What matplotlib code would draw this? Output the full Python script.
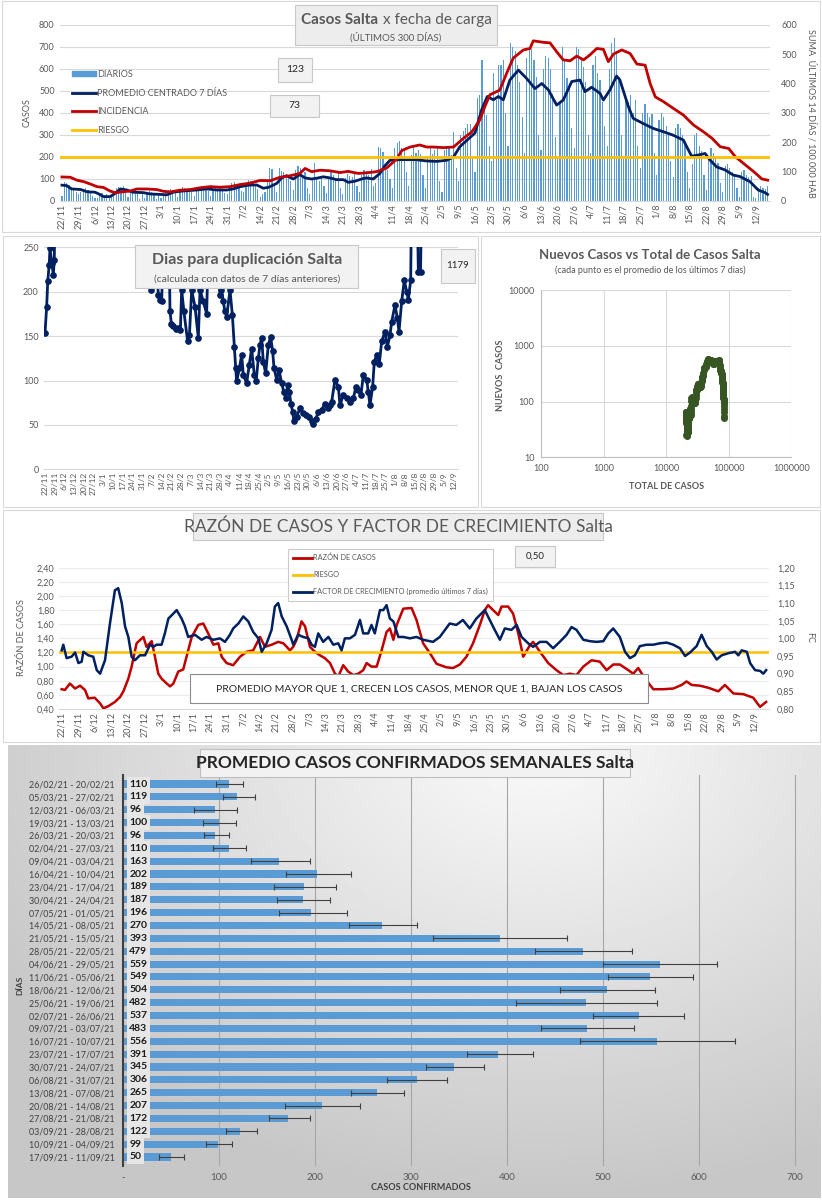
import numpy as np
import pandas as pd
import matplotlib
matplotlib.use("Agg")
import matplotlib.pyplot as plt
from matplotlib.patches import Rectangle
from matplotlib.lines import Line2D

plt.rcParams['font.family'] = ['Lato', 'DejaVu Sans']

# ---------------- datos ----------------
fechas_ticks = ["22/11", "29/11", "6/12", "13/12", "20/12", "27/12", "3/1", "10/1", "17/1", "24/1",
                "31/1", "7/2", "14/2", "21/2", "28/2", "7/3", "14/3", "21/3", "28/3", "4/4", "11/4",
                "18/4", "25/4", "2/5", "9/5", "16/5", "23/5", "30/5", "6/6", "13/6", "20/6", "27/6",
                "4/7", "11/7", "18/7", "25/7", "1/8", "8/8", "15/8", "22/8", "29/8", "5/9", "12/9"]

# casos diarios, 22/11/2020 a 17/09/2021
diarios = [
    25, 85, 80, 75, 65, 60, 40,
    30, 40, 55, 60, 50, 45, 25,
    12, 15, 30, 35, 28, 30, 20,
    25, 45, 60, 65, 55, 70, 35,
    20, 40, 55, 50, 45, 10, 35,
    15, 35, 45, 40, 35, 10, 30,
    12, 30, 40, 50, 55, 45, 35,
    20, 50, 65, 60, 55, 55, 40,
    25, 55, 65, 60, 60, 65, 45,
    25, 50, 60, 70, 60, 50, 35,
    30, 60, 80, 85, 70, 60, 45,
    40, 80, 95, 90, 90, 75, 55,
    20, 30, 40, 100, 150, 145,
    80, 40, 150, 135, 130, 115, 120,
    90, 50, 140, 160, 150, 110, 133,
    60, 30, 100, 175, 110, 90, 107,
    70, 35, 110, 130, 120, 100, 135,
    60, 30, 105, 125, 115, 110, 127,
    70, 40, 120, 140, 135, 120, 145,
    70, 80, 245, 240, 225, 140, 141,
    100, 60, 240, 265, 275, 240, 234,
    130, 70, 210, 250, 220, 230, 213,
    120, 60, 200, 240, 215, 230, 244,
    90, 40, 230, 250, 240, 210, 312,
    150, 90, 300, 320, 330, 350, 350,
    200, 130, 470, 480, 640, 440, 391,
    250, 180, 580, 460, 620, 620, 643,
    400, 250, 720, 700, 680, 620, 543,
    380, 220, 650, 700, 690, 640, 563,
    300, 230, 600, 660, 650, 600, 488,
    290, 200, 450, 700, 640, 560, 534,
    330, 240, 700, 690, 650, 610, 539,
    300, 220, 620, 660, 580, 550, 451,
    340, 250, 600, 720, 740, 680, 562,
    300, 190, 460, 450, 480, 400, 457,
    250, 150, 400, 440, 400, 380, 395,
    220, 120, 370, 400, 380, 340, 312,
    180, 110, 330, 350, 330, 300, 255,
    130, 60, 170, 300, 310, 250, 229,
    120, 50, 200, 240, 220, 200, 174,
    80, 40, 160, 170, 150, 130, 124,
    60, 20, 130, 140, 120, 110, 113,
    20, 15, 60, 70, 60, 55, 70,
]

dias_prom = [0, 2, 4, 8, 10.6, 14, 16, 17.6, 20.4, 22.6, 24.7, 27.5, 30, 34.5, 37.4, 41.6, 44.4, 47.2,
             50.8, 57.1, 61.4, 65.6, 69.9, 72.6, 75.5, 79, 82.5, 85.3, 87.5, 91, 93.1, 95.2, 98,
             100.8, 103, 105.8, 108.6, 110.7, 113.5, 116.4, 119.2, 121.3, 124.1, 127, 129, 131.9,
             134.7, 136.8, 139, 143.2, 150, 154.5, 158.7, 163, 165.9, 168.6, 171.5, 175, 177.8,
             180.2, 182.8, 184.9, 187, 189.8, 193.4, 196.9, 200.4, 203.3, 206.1, 209.6, 212.4, 216,
             219.5, 221.6, 224.4, 228, 229.4, 232.2, 235, 236.4, 240, 242, 246.3, 250.5, 254.8, 259,
             263.3, 264.7, 266.8, 269.6, 272.5, 274.6, 277.4, 281, 284.4, 287.3, 291.5, 295, 297.9, 299]
promedio7 = [72, 70, 55, 52, 42, 40, 30, 20, 20, 35, 55, 50, 40, 38, 32, 30, 28, 40,
             45, 50, 55, 50, 50, 55, 65, 72, 73, 58, 62, 80, 105, 115, 100,
             120, 105, 100, 105, 110, 105, 97, 97, 85, 90, 100, 105, 100,
             125, 160, 185, 188, 188, 182, 180, 185, 200, 247, 275, 309, 414,
             475, 460, 475, 460, 550, 595, 557, 511, 534, 505, 436, 459, 543,
             550, 497, 517, 489, 459, 505, 568, 550, 429, 376, 352, 330, 315, 299,
             277, 247, 204, 209, 216, 186, 155, 141, 118, 111, 88, 50, 38, 30]

dias_inc = [0, 3.5, 6.3, 9.2, 12, 14.8, 17.6, 20.4, 22.6, 25.4, 28.9, 31.7, 36, 40.2, 43, 45.8, 50.1,
            54.3, 58.5, 62.8, 67, 71.2, 75.5, 79.7, 83.9, 88.2, 92.4, 96.6, 100.8, 103, 105.8, 109.3,
            113.5, 117.8, 121.3, 125.5, 129, 133.3, 137.5, 141.7, 144, 147.5, 151.6, 154.5, 157.3,
            161.6, 165.9, 170, 173.6, 177, 179.2, 181.3, 185.5, 188.4, 191.2, 195.5, 198.3, 199.7,
            204, 206.8, 209.6, 212.4, 215.3, 218.1, 221, 223.7, 226.6, 229.4, 231.5, 233.7, 237.2,
            240.7, 243.6, 247.1, 249.2, 251.4, 254.8, 259, 263.3, 267.6, 271.8, 275.4, 278.9, 282.5,
            285.3, 288.8, 293.1, 296.6, 299]
incidencia = [82, 81, 71, 66, 58, 49, 46, 34, 28, 31, 34, 41, 41, 39, 33, 31, 37,
              39, 45, 49, 47, 49, 56, 61, 70, 69, 81, 86, 94, 111, 100, 105,
              103, 97, 101, 94, 96, 100, 112, 142, 172, 184, 191, 184, 184,
              182, 184, 213, 235, 276, 322, 362, 378, 435, 487, 515, 520, 546,
              541, 539, 509, 481, 478, 494, 481, 498, 520, 517, 475, 501, 515,
              503, 467, 463, 401, 355, 339, 316, 293, 259, 236, 214, 185, 179,
              151, 128, 100, 75, 71]

dias_dup = [0, 1.2, 2, 3, 3.6, 5, 6, 6.7, 8, 20, 40, 60, 74, 76, 78, 81.6, 82.8, 84, 86, 89, 90, 91,
            92.4, 94, 96, 97.5, 98.4, 100, 102.7, 104, 105.6, 108, 110.4, 111.6, 114, 116.4, 118.3,
            122, 125, 126, 127, 128.4, 129.5, 130.8, 133.2, 134.9, 136.3, 137.3, 138, 140, 141.6,
            142.8, 145.2, 147, 148.8, 150.7, 152, 153.6, 154.8, 156, 157.2, 158.9, 160.8, 162.5,
            163.9, 164.9, 166.8, 168.5, 170.4, 172, 173.3, 174.7, 175.9, 177.1, 178.3, 179.3, 181.2,
            183.6, 185.5, 187.9, 190.3, 192, 193.2, 195.1, 196.8, 199.2, 201.6, 203.5, 205.2, 206.4,
            208.8, 211.2, 212.4, 214.8, 217.2, 219.6, 222, 223.9, 225.6, 227.5, 229.2, 231.6, 232.8,
            234, 235.9, 237.1, 238.8, 240.7, 242.4, 244.8, 246.5, 248.4, 249.6, 252, 253.7, 254.9,
            256.8, 258.7, 260.4, 261.6, 263.3, 264.5, 267, 268.8, 270.4, 272, 285, 299]
duplicacion = [153, 183, 212, 230, 249, 232, 219, 236, 400, 500, 500, 500, 400, 202, 300, 196, 191, 189, 300, 300, 178, 164,
               161, 158, 159, 157, 202, 178, 144, 151, 202, 183, 148, 202, 189, 175, 300,
               300, 300, 196, 202, 189, 178, 172, 202, 174, 138, 114, 99, 114, 129,
               106, 97, 117, 136, 106, 99, 125, 140, 148, 121, 108, 140, 149,
               133, 114, 101, 112, 97, 87, 80, 95, 87, 74, 65, 54, 59,
               69, 63, 61, 59, 54, 51, 57, 65, 67, 74, 69, 72, 76,
               101, 93, 72, 84, 80, 76, 80, 93, 89, 84, 106, 101, 87,
               72, 93, 121, 129, 119, 144, 155, 138, 151, 166, 185, 170, 155,
               189, 213, 200, 191, 213, 400, 400, 222, 222, 400, 800, 1179]

dias_razon = [0, 1.4, 3.5, 5.7, 7.8, 9.9, 11.3, 14, 16.3, 17.7, 19.8, 22.6, 24.8, 26.2, 28.3, 29.7, 31.8,
              34.7, 36, 38.2, 39.6, 41, 42.4, 44.6, 46, 47.4, 49.5, 51.6, 53, 55.2, 58, 60.1, 62.2,
              64.4, 66.5, 67.9, 70, 72.8, 75.7, 78.5, 81.3, 84.2, 86.3, 89.1, 91.9, 94.1, 96.9, 98.3,
              99.7, 101.8, 103.3, 105.4, 107.5, 109.6, 111.7, 113.9, 116, 117.4, 119.5, 121.6, 123.8,
              125.9, 128, 129.4, 131.5, 133.7, 135.8, 137.9, 139.3, 140.8, 142.2, 145, 148.5, 150.6,
              153.4, 156.3, 159.1, 163.3, 166.1, 169, 171.8, 174.6, 177.5, 179.6, 181, 183.1, 185.3,
              186.7, 189.5, 191.6, 193.8, 195.9, 198.7, 200.1, 203, 206.5, 210, 212.9, 215.7, 218.5,
              221.4, 224.9, 228.4, 231.3, 234.1, 236.9, 240.5, 242.6, 244.7, 247.6, 251.1, 255.4,
              259.6, 263.1, 265.2, 267.4, 270.9, 274.5, 278.7, 281.5, 285.1, 289.3, 293.5, 296.4, 299]
razon = [0.68, 0.67, 0.76, 0.69, 0.73, 0.67, 0.55, 0.56, 0.48, 0.41, 0.44, 0.50, 0.57, 0.65, 0.83, 1.00, 1.33,
         1.42, 1.28, 1.36, 1.14, 0.90, 0.83, 0.76, 0.72, 0.76, 0.93, 0.96, 1.14, 1.42, 1.59, 1.61, 1.47,
         1.31, 1.33, 1.14, 1.05, 1.02, 1.14, 1.21, 1.23, 1.42, 1.28, 1.31, 1.35, 1.33, 1.23, 1.28,
         1.38, 1.64, 1.57, 1.28, 1.21, 1.16, 1.12, 1.05, 0.90, 0.86, 1.02, 0.93, 0.88,
         0.90, 0.95, 1.05, 1.00, 1.00, 1.23, 1.49, 1.54, 1.38, 1.59, 1.82, 1.83, 1.66,
         1.33, 1.19, 1.04, 0.99, 0.98, 1.03, 1.14, 1.33, 1.59, 1.80, 1.87, 1.80, 1.73,
         1.85, 1.85, 1.75, 1.47, 1.14, 1.30, 1.35, 1.21, 1.05, 0.95, 0.88, 0.90, 0.88,
         1.00, 1.09, 1.07, 0.95, 1.03, 1.03, 0.95, 0.90, 0.98, 0.83, 0.68, 0.68,
         0.69, 0.74, 0.79, 0.74, 0.73, 0.70, 0.65, 0.74, 0.62, 0.61, 0.56, 0.43, 0.50]

dias_fc = [0, 0.7, 2.1, 4.2, 5.7, 7.1, 8.5, 9.2, 11.3, 13.4, 14.9, 16.3, 18.4, 20.5, 22.6, 24, 25.5, 26.9,
           28.3, 29.7, 31.1, 33.2, 35.4, 37.5, 38.9, 40.3, 42.4, 43.8, 45.3, 47.4, 48.8, 50.9, 52.3,
           53.7, 56.6, 59.4, 61.5, 64.4, 67.2, 69.3, 71.4, 72.8, 75, 77.1, 79.2, 81.3, 83.5, 84.9, 87,
           89.1, 90.5, 91.9, 93.4, 95.5, 97.6, 98.3, 100.4, 102.5, 104.7, 106.1, 107.5, 108.9, 111,
           113.2, 115.3, 117.4, 118.8, 120.2, 122.3, 124.5, 126.6, 128, 130.1, 131.5, 132.9, 135.1,
           136.5, 137.9, 139.3, 140.8, 142.9, 145, 147.8, 150.6, 153.4, 157.6, 160.5, 164.7, 167.5,
           170.3, 173.2, 176, 179.6, 181.7, 183.8, 186, 188.1, 190.9, 193.1, 195.2, 198, 200.1, 203,
           205.8, 208.6, 211.4, 214.3, 216.4, 218.5, 221.4, 224.2, 227, 229.9, 232, 234.1, 236.9,
           239.1, 241.2, 243.3, 245.4, 248.3, 251.1, 253.9, 256.8, 259.6, 262.4, 264.6, 266.7,
           269.5, 271.6, 273.8, 275.9, 278, 280.1, 283, 285.8, 287.2, 288.6, 290.8, 292.2, 294.3,
           296.4, 297.8, 299]
factor_crec = [0.966, 0.982, 0.944, 0.948, 0.96, 0.93, 0.934, 0.962, 0.952, 0.948, 0.91, 0.90, 0.938, 1.042, 1.136, 1.142, 1.10, 1.034,
               1.004, 0.948, 0.938, 0.952, 0.952, 0.982, 0.976, 0.982, 0.982, 1.014, 1.056, 1.07, 1.08, 1.056, 1.034,
               1.004, 1.01, 0.996, 1.004, 0.996, 1.00, 0.99, 1.01, 1.028, 1.042, 1.062, 1.048, 1.018, 1.00, 0.962, 0.986,
               1.024, 1.09, 1.10, 1.062, 1.034, 0.996, 0.982, 1.01, 1.004, 1.00, 0.982, 0.976, 1.014, 0.99,
               1.004, 0.982, 0.986, 0.966, 1.00, 1.00, 1.01, 1.052, 1.014, 1.014, 1.038, 1.014, 1.08,
               1.08, 1.094, 1.056, 1.048, 1.004, 1.004, 1.00, 1.004, 0.996, 0.99, 1.004, 1.042, 1.038,
               1.052, 1.028, 1.056, 1.08, 1.052, 1.024, 0.996, 1.028, 1.024, 1.038, 1.004, 0.986, 0.976, 0.99,
               0.99, 0.972, 0.99, 1.01, 1.032, 1.024, 0.996, 0.992, 0.99, 0.992, 1.014, 1.028, 1.004,
               0.962, 0.944, 0.952, 0.978, 0.982, 0.982, 0.986, 0.988, 0.982, 0.972, 0.95, 0.96,
               0.978, 1.01, 0.978, 0.962, 0.94, 0.952, 0.958, 0.962, 0.952, 0.966, 0.962, 0.93, 0.91,
               0.908, 0.90, 0.91]

total_previo = 20300  # casos acumulados antes del 22/11

semanas = ["26/02/21 - 20/02/21", "05/03/21 - 27/02/21", "12/03/21 - 06/03/21", "19/03/21 - 13/03/21",
           "26/03/21 - 20/03/21", "02/04/21 - 27/03/21", "09/04/21 - 03/04/21", "16/04/21 - 10/04/21",
           "23/04/21 - 17/04/21", "30/04/21 - 24/04/21", "07/05/21 - 01/05/21", "14/05/21 - 08/05/21",
           "21/05/21 - 15/05/21", "28/05/21 - 22/05/21", "04/06/21 - 29/05/21", "11/06/21 - 05/06/21",
           "18/06/21 - 12/06/21", "25/06/21 - 19/06/21", "02/07/21 - 26/06/21", "09/07/21 - 03/07/21",
           "16/07/21 - 10/07/21", "23/07/21 - 17/07/21", "30/07/21 - 24/07/21", "06/08/21 - 31/07/21",
           "13/08/21 - 07/08/21", "20/08/21 - 14/08/21", "27/08/21 - 21/08/21", "03/09/21 - 28/08/21",
           "10/09/21 - 04/09/21", "17/09/21 - 11/09/21"]
prom_semanal = [110, 119, 96, 100, 96, 110, 163, 202, 189, 187, 196, 270, 393, 479, 559, 549, 504, 482,
                537, 483, 556, 391, 345, 306, 265, 207, 172, 122, 99, 50]
err_inf = [97, 104, 74, 83, 84, 94, 133, 170, 157, 160, 162, 235, 323, 429, 500, 505, 455, 409,
           490, 435, 476, 358, 316, 275, 238, 169, 152, 107, 86, 38]
err_sup = [125, 137, 119, 118, 110, 128, 195, 237, 222, 216, 233, 306, 463, 530, 619, 594, 554, 556,
           584, 532, 637, 427, 376, 338, 293, 247, 195, 140, 114, 64]

# ---------------- estilo ----------------
W, H = 822, 1200
AZUL = "#5b9bd5"
MARINO = "#002060"
ROJO = "#c00000"
AMARILLO = "#ffc000"
GRIS = "#595959"
GRILLA = "#d9d9d9"

fig = plt.figure(figsize=(W / 100, H / 100), dpi=100)
fig.patch.set_facecolor("white")


def caja(x0, y0, x1, y1):
    return [x0 / W, 1 - y1 / H, (x1 - x0) / W, (y1 - y0) / H]


def rect(x0, y0, x1, y1, fc="none", ec=GRILLA, lw=0.8, z=5):
    fig.patches.append(Rectangle((x0 / W, 1 - y1 / H), (x1 - x0) / W, (y1 - y0) / H,
                                 transform=fig.transFigure, facecolor=fc, edgecolor=ec,
                                 lw=lw, zorder=z))


def texto(x, y, s, **kw):
    kw.setdefault("ha", "center")
    kw.setdefault("va", "center")
    kw.setdefault("zorder", 6)
    kw.setdefault("color", GRIS)
    fig.text(x / W, 1 - y / H, s, **kw)


def limpiar(ax):
    for s in ax.spines.values():
        s.set_visible(False)
    ax.tick_params(length=0, labelsize=6.5, labelcolor=GRIS)


dias = np.arange(len(diarios))
pos_ticks = np.arange(0, 295, 7)

# ---------------- 1: casos diarios ----------------
ax1 = fig.add_axes(caja(59.6, 25, 770, 201))
ax1.bar(dias, diarios, width=0.5, color=AZUL, zorder=2)
ax1.plot(dias_prom, promedio7, color=MARINO, lw=2, zorder=3)
ax1.set_xlim(-1, 300)
ax1.set_ylim(0, 800)
ax1.set_yticks(range(0, 801, 100))
ax1.grid(axis="y", color=GRILLA, lw=0.8)
ax1.set_axisbelow(True)
ax1.set_xticks(pos_ticks)
ax1.set_xticklabels(fechas_ticks, rotation=90)
limpiar(ax1)
ax1.spines["bottom"].set_visible(True)
ax1.spines["bottom"].set_color(GRILLA)
ax1.tick_params(axis="x", pad=2)
ax1b = ax1.twinx()
ax1b.plot(dias_inc, incidencia, color=ROJO, lw=2, zorder=3)
ax1b.axhline(150, color=AMARILLO, lw=2, zorder=4)
ax1b.set_ylim(0, 600)
ax1b.set_yticks(range(0, 601, 100))
limpiar(ax1b)
ax1b.tick_params(pad=8)

texto(27, 113, "CASOS", rotation=90, fontsize=6.5)
texto(811, 113, "SUMA  ÚLTIMOS 14 DÍAS / 100.000 HAB", rotation=270, fontsize=6.5)
h1 = [Rectangle((0, 0), 1, 1, color=AZUL), Line2D([], [], color=MARINO, lw=2),
      Line2D([], [], color=ROJO, lw=2), Line2D([], [], color=AMARILLO, lw=2)]
fig.legend(h1, ["DIARIOS", "PROMEDIO CENTRADO 7 DÍAS", "INCIDENCIA", "RIESGO"],
           loc="upper left", bbox_to_anchor=(64 / W, 1 - 62 / H), frameon=False, fontsize=6.5,
           labelspacing=1.05, handlelength=2.6, handleheight=0.5, handletextpad=0.2, labelcolor=GRIS)
rect(295, 5, 497, 45, fc="#ededed", ec="#c8c8c8")
texto(378, 20, "Casos Salta", ha="right", fontsize=11, fontweight="bold")
texto(383, 20, "x fecha de carga", ha="left", fontsize=11)
texto(396, 37, "(ÚLTIMOS 300 DÍAS)", fontsize=7)
rect(278, 58, 312, 82, fc="#f2f2f2", ec="#c8c8c8")
texto(295, 70, "123", fontsize=7.5, color="#262626")
rect(270, 95, 319, 117, fc="#f2f2f2", ec="#c8c8c8")
texto(294, 106, "73", fontsize=7.5, color="#262626")
rect(2, 1, 820, 232)

# ---------------- 2: dias para duplicacion ----------------
ax2 = fig.add_axes(caja(43.6, 247.3, 457.5, 469.3))
ax2.plot(dias_dup, duplicacion, color=MARINO, lw=2, marker="o", markersize=3.8)
ax2.set_xlim(-1, 297)
ax2.set_ylim(0, 250)
ax2.set_yticks(range(0, 251, 50))
ax2.grid(axis="y", color=GRILLA, lw=0.8)
ax2.set_axisbelow(True)
ax2.set_xticks(pos_ticks)
ax2.set_xticklabels(fechas_ticks, rotation=90)
limpiar(ax2)
ax2.tick_params(axis="x", labelsize=6, pad=2)
ax2.spines["bottom"].set_visible(True)
ax2.spines["bottom"].set_color(GRILLA)
rect(135, 245, 358, 288, fc="#f2f2f2", ec="#c8c8c8")
texto(247, 260, "Dias para duplicación Salta", fontsize=11.5, fontweight="bold")
texto(247, 279, "(calculada con datos de 7 días anteriores)", fontsize=7.5)
rect(441, 249, 475, 283, fc="#f2f2f2", ec="#c8c8c8")
texto(458, 266, "1179", fontsize=7, color="#262626")
rect(3, 236, 478, 507)

# ---------------- 3: nuevos vs total ----------------
total = total_previo + np.cumsum(diarios)
nuevos = pd.Series(diarios).rolling(7, min_periods=1).mean()
ax3 = fig.add_axes(caja(541.3, 290, 791.3, 457.3))
ax3.scatter(total, nuevos, s=16, color="#375623", zorder=3)
ax3.set_xscale("log")
ax3.set_yscale("log")
ax3.set_xlim(100, 1e6)
ax3.set_ylim(10, 1e4)
ax3.set_xticks([100, 1000, 10000, 100000, 1000000])
ax3.set_xticklabels(["100", "1000", "10000", "100000", "1000000"])
ax3.set_yticks([10, 100, 1000, 10000])
ax3.set_yticklabels(["10", "100", "1000", "10000"])
ax3.minorticks_off()
ax3.grid(color=GRILLA, lw=0.8)
limpiar(ax3)
ax3.tick_params(pad=5)
for s in ["left", "bottom"]:
    ax3.spines[s].set_visible(True)
    ax3.spines[s].set_color("#bfbfbf")
texto(650, 255, "Nuevos Casos vs Total de Casos Salta", fontsize=9.5, fontweight="bold")
texto(650, 270, "(cada punto es el promedio de los últimos 7 dias)", fontsize=6.5)
texto(500, 375, "NUEVOS  CASOS", rotation=90, fontsize=6.5, fontweight="bold")
texto(667, 487, "TOTAL DE CASOS", fontsize=6.5, fontweight="bold")
rect(481, 236, 820, 507)

# ---------------- 4: razon de casos y FC ----------------
ax4 = fig.add_axes(caja(59.3, 567.7, 768.5, 709))
ax4.plot(dias_razon, razon, color=ROJO, lw=1.8, zorder=3)
ax4.axhline(1.2, color=AMARILLO, lw=1.8, zorder=4)
ax4.set_xlim(-1, 300)
ax4.set_ylim(0.4, 2.4)
yt4 = np.arange(0.4, 2.41, 0.2)
ax4.set_yticks(yt4)
ax4.set_yticklabels([f"{v:.2f}".replace(".", ",") for v in yt4])
ax4.grid(axis="y", color="#ececec", lw=0.8)
ax4.set_axisbelow(True)
ax4.set_xticks(pos_ticks)
ax4.set_xticklabels(fechas_ticks, rotation=90)
limpiar(ax4)
ax4.tick_params(axis="x", pad=2)
ax4.spines["bottom"].set_visible(True)
ax4.spines["bottom"].set_color(GRILLA)
ax4b = ax4.twinx()
ax4b.plot(dias_fc, factor_crec, color=MARINO, lw=1.8, zorder=3)
ax4b.set_ylim(0.8, 1.2)
yt4b = np.arange(0.8, 1.201, 0.05)
ax4b.set_yticks(yt4b)
ax4b.set_yticklabels([f"{v:.2f}".replace(".", ",") for v in yt4b])
limpiar(ax4b)
ax4b.tick_params(pad=6)

texto(22, 638, "RAZÓN DE CASOS", rotation=90, fontsize=6.5)
texto(810, 638, "FC", rotation=270, fontsize=6.5)
rect(193, 513, 603, 540, fc="#ededed", ec="#c8c8c8")
texto(398, 527, "RAZÓN DE CASOS Y FACTOR DE CRECIMIENTO Salta", fontsize=12.5)
h4 = [Line2D([], [], color=ROJO, lw=2), Line2D([], [], color=AMARILLO, lw=2),
      Line2D([], [], color=MARINO, lw=2)]
leg4 = fig.legend(h4, ["RAZÓN DE CASOS", "RIESGO", "FACTOR DE CRECIMIENTO (promedio últimos 7 días)"],
                  loc="upper left", bbox_to_anchor=(284 / W, 1 - 545 / H), frameon=True, fancybox=False,
                  edgecolor="#bfbfbf", fontsize=5.3, labelspacing=1.35, handlelength=2.6,
                  handletextpad=0.2, borderpad=0.7, labelcolor=GRIS)
leg4.get_frame().set_linewidth(0.8)
rect(515, 546, 555, 567, fc="#f2f2f2", ec="#c8c8c8")
texto(535, 556.5, "0,50", fontsize=7, color="#262626")
rect(190, 674, 648, 703, fc="white", ec="#8c8c8c")
texto(419, 689, "PROMEDIO MAYOR QUE 1, CRECEN LOS CASOS, MENOR QUE 1, BAJAN LOS CASOS",
      fontsize=7.5, color="#262626")
rect(3, 510, 820, 742)

# ---------------- 5: promedio semanal ----------------
axg = fig.add_axes(caja(8, 745, 820, 1198), zorder=-1)
gy, gx = np.mgrid[0:1:200j, 0:1:300j]
dist = np.clip(np.sqrt(((gx - 0.65) * 1.3) ** 2 + gy ** 2), 0, 1)
axg.imshow(0.98 - 0.2 * dist, cmap="gray", vmin=0, vmax=1, aspect="auto")
axg.axis("off")

ax5 = fig.add_axes(caja(123, 775, 814.2, 1166))
ax5.patch.set_alpha(0)
filas = np.arange(len(semanas))
prom = np.array(prom_semanal)
ax5.barh(filas, prom, height=0.55, color=AZUL, zorder=2)
ax5.errorbar(prom, filas, xerr=[prom - np.array(err_inf), np.array(err_sup) - prom], fmt="none",
             ecolor="#404040", elinewidth=0.8, capsize=2.2, capthick=0.8, zorder=3)
for f, v in zip(filas, prom_semanal):
    ax5.text(6.5, f, str(v), ha="left", va="center", fontsize=7.5, fontweight="bold",
             color="#1a1a1a", zorder=4,
             bbox=dict(boxstyle="square,pad=0.25", fc="#e6e6e6", ec="none"))
ax5.set_xlim(0, 720)
ax5.set_ylim(29.7, -0.7)
ax5.set_xticks(range(0, 701, 100))
ax5.set_xticklabels(["-"] + [str(v) for v in range(100, 701, 100)])
ax5.set_yticks(filas)
ax5.set_yticklabels(semanas)
ax5.grid(axis="x", color="#a6a6a6", lw=0.8)
ax5.set_axisbelow(True)
limpiar(ax5)
ax5.tick_params(axis="y", pad=6, labelsize=6.4, labelcolor="#404040")
ax5.tick_params(axis="x", labelsize=7, pad=5)
ax5.spines["left"].set_visible(True)
ax5.spines["left"].set_color("#404040")
ax5.spines["left"].set_linewidth(1.5)
texto(421, 1188, "CASOS CONFIRMADOS", fontsize=6.5, fontweight="bold", color="#404040")
texto(20, 985, "DÍAS", rotation=90, fontsize=6, fontweight="bold", color="#404040")
rect(200, 749, 630, 777, fc="#f2f2f2", ec="#bfbfbf")
texto(415, 763, "PROMEDIO CASOS CONFIRMADOS SEMANALES Salta", fontsize=12.5, fontweight="bold",
      color="#262626")

fig.savefig("out.png", dpi=100)
